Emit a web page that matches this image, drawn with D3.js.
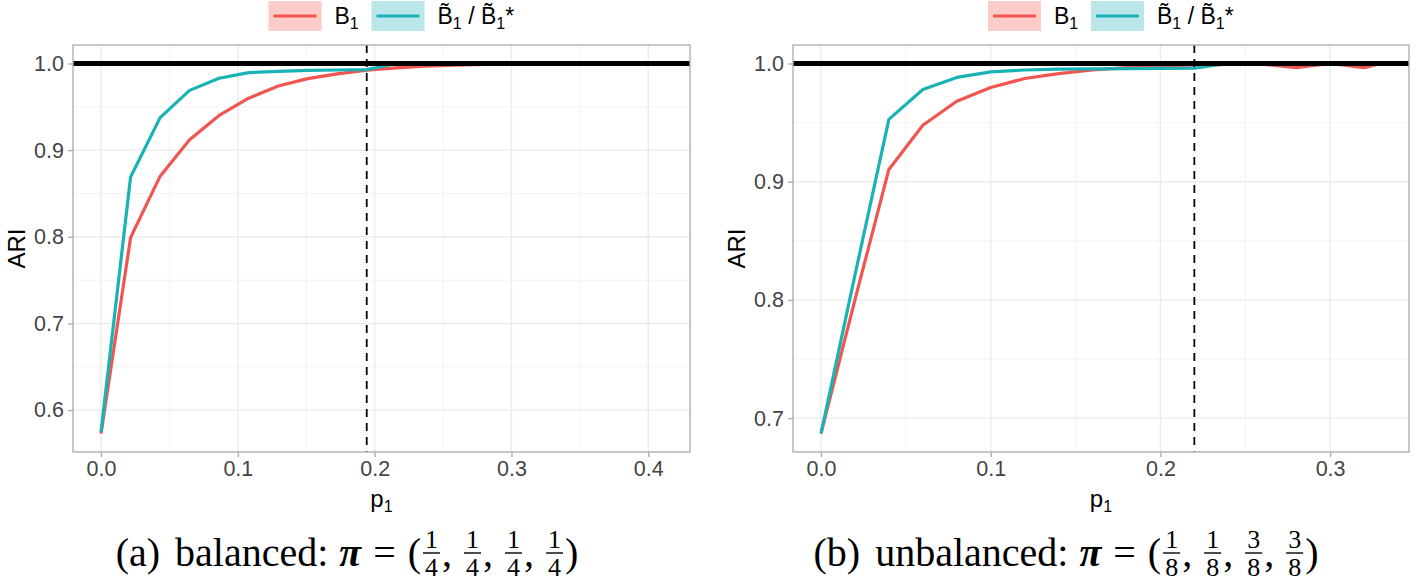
<!DOCTYPE html>
<html><head><meta charset="utf-8">
<script src="https://cdn.jsdelivr.net/npm/d3@7"></script>
<style>html,body{margin:0;padding:0;background:#fff;}svg{display:block;}</style>
</head><body>
<svg id="chart" width="1416" height="581"></svg>
<script>
// ---------- data ----------
const seriesNames = ["B1", "Bt"];
const leftX  = [0, 0.0216, 0.0432, 0.0647, 0.0863, 0.1079, 0.1295, 0.1511, 0.1726, 0.1942, 0.2158, 0.2374, 0.2589, 0.2805, 0.3021, 0.3237, 0.3453, 0.3668, 0.3884, 0.41];
const leftB1 = [0.573, 0.799, 0.870, 0.912, 0.940, 0.960, 0.974, 0.9825, 0.988, 0.9922, 0.995, 0.997, 0.998, 0.999, 0.9995, 1, 1, 1, 1, 1];
const leftBt = [0.575, 0.869, 0.9375, 0.969, 0.983, 0.9895, 0.991, 0.992, 0.9925, 0.993, 1, 1, 1, 1, 1, 1, 1, 1, 1, 1];
const rightX  = [0, 0.02, 0.04, 0.06, 0.08, 0.10, 0.12, 0.14, 0.16, 0.18, 0.20, 0.22, 0.24, 0.26, 0.28, 0.30, 0.32, 0.33];
const rightB1 = [0.687, 0.80, 0.9104, 0.9478, 0.9681, 0.9797, 0.9873, 0.9915, 0.9945, 0.9965, 0.998, 0.9988, 0.9993, 0.9995, 0.9965, 1, 0.9965, 1];
const rightBt = [0.687, 0.821, 0.9527, 0.978, 0.9882, 0.9929, 0.9945, 0.9952, 0.9955, 0.9957, 0.9958, 0.996, 1, 1, 1, 1, 1, 1];
const leftXTicks  = [0, 0.1, 0.2, 0.3, 0.4];
const leftYTicks  = [0.6, 0.7, 0.8, 0.9, 1.0];
const rightXTicks = [0, 0.1, 0.2, 0.3];
const rightYTicks = [0.7, 0.8, 0.9, 1.0];
const refLine = 1.0;
const leftVline = 0.1942;
const rightVline = 0.22;
const captionA = {label: "(a)", word: "balanced:", fracs: [["1","4"],["1","4"],["1","4"],["1","4"]]};
const captionB = {label: "(b)", word: "unbalanced:", fracs: [["1","8"],["1","8"],["3","8"],["3","8"]]};

// ---------- style ----------
const RED = "#F0564F", TEAL = "#19B3B6";
const RED_BG = "#FDCBC9", TEAL_BG = "#BAE8EA";
const svg = d3.select("#chart");
const SANS = "'Liberation Sans', Arial, sans-serif";
const SERIF = "'Liberation Serif', 'Times New Roman', serif";

function expand(lo, hi) { const r = hi - lo; return [lo - 0.05 * r, hi + 0.05 * r]; }

function drawPanel(o) {
  const g = svg.append("g");
  const xd = expand(d3.min(o.xs), d3.max(o.xs));
  const allY = o.b1.concat(o.bt).concat([refLine]);
  const yd = expand(d3.min(allY), d3.max(allY));
  const x = d3.scaleLinear().domain(xd).range([o.x0, o.x1]);
  const y = d3.scaleLinear().domain(yd).range([o.y1, o.y0]);

  g.append("rect").attr("x", o.x0).attr("y", o.y0).attr("width", o.x1 - o.x0).attr("height", o.y1 - o.y0).attr("fill", "#fff");
  const xMinor = o.xTicks.slice(0, -1).map((t, i) => (t + o.xTicks[i + 1]) / 2);
  xMinor.push(o.xTicks[o.xTicks.length - 1] + 0.05);
  const yMinor = o.yTicks.slice(0, -1).map((t, i) => (t + o.yTicks[i + 1]) / 2);
  yMinor.unshift(o.yTicks[0] - 0.05);
  g.selectAll(".vminor").data(xMinor.filter(v => v > xd[0] && v < xd[1])).enter().append("line")
    .attr("x1", d => x(d)).attr("x2", d => x(d)).attr("y1", o.y0).attr("y2", o.y1)
    .attr("stroke", "#F3F3F3").attr("stroke-width", 1);
  g.selectAll(".hminor").data(yMinor.filter(v => v > yd[0] && v < yd[1])).enter().append("line")
    .attr("y1", d => y(d)).attr("y2", d => y(d)).attr("x1", o.x0).attr("x2", o.x1)
    .attr("stroke", "#F3F3F3").attr("stroke-width", 1);
  g.selectAll(".vmajor").data(o.xTicks).enter().append("line")
    .attr("x1", d => x(d)).attr("x2", d => x(d)).attr("y1", o.y0).attr("y2", o.y1)
    .attr("stroke", "#EBEBEB").attr("stroke-width", 1.4);
  g.selectAll(".hmajor").data(o.yTicks).enter().append("line")
    .attr("y1", d => y(d)).attr("y2", d => y(d)).attr("x1", o.x0).attr("x2", o.x1)
    .attr("stroke", "#EBEBEB").attr("stroke-width", 1.4);

  const line = ys => d3.line().x((d, i) => x(o.xs[i])).y(d => y(d))(ys);
  g.append("path").attr("d", line(o.b1)).attr("fill", "none").attr("stroke", RED).attr("stroke-width", 3.2).attr("stroke-linejoin", "round");
  g.append("path").attr("d", line(o.bt)).attr("fill", "none").attr("stroke", TEAL).attr("stroke-width", 3.2).attr("stroke-linejoin", "round");
  g.append("line").attr("x1", o.x0).attr("x2", o.x1).attr("y1", y(refLine)).attr("y2", y(refLine))
    .attr("stroke", "#000").attr("stroke-width", 5);
  g.append("line").attr("x1", x(o.vline)).attr("x2", x(o.vline)).attr("y1", o.y0).attr("y2", o.y1)
    .attr("stroke", "#000").attr("stroke-width", 1.8).attr("stroke-dasharray", "8,6");
  g.append("rect").attr("x", o.x0).attr("y", o.y0).attr("width", o.x1 - o.x0).attr("height", o.y1 - o.y0)
    .attr("fill", "none").attr("stroke", "#B0B0B0").attr("stroke-width", 1.4);

  const ax = d3.axisBottom(x).tickValues(o.xTicks).tickFormat(d3.format(".1f")).tickSize(5).tickPadding(4);
  const gx = g.append("g").attr("transform", `translate(0,${o.y1})`).call(ax);
  const ay = d3.axisLeft(y).tickValues(o.yTicks).tickFormat(d3.format(".1f")).tickSize(5).tickPadding(4);
  const gy = g.append("g").attr("transform", `translate(${o.x0},0)`).call(ay);
  [gx, gy].forEach(a => {
    a.select(".domain").remove();
    a.selectAll(".tick line").attr("stroke", "#B0B0B0").attr("stroke-width", 1.4);
    a.selectAll(".tick text").attr("fill", "#444").style("font-family", SANS).style("font-size", "21.5px");
  });
  gx.selectAll(".tick text").attr("dy", "0.71em");

  g.append("text").attr("transform", `translate(${o.x0 - 57},${(o.y0 + o.y1) / 2}) rotate(-90)`)
    .attr("text-anchor", "middle").attr("dy", "0.36em").style("font-family", SANS).style("font-size", "24px").attr("fill", "#000").text("ARI");
  const pt = g.append("text").attr("x", (o.x0 + o.x1) / 2).attr("y", 507).attr("text-anchor", "middle")
    .style("font-family", SANS).style("font-size", "24px").attr("fill", "#000");
  pt.append("tspan").text("p");
  pt.append("tspan").attr("dy", 5).style("font-size", "16px").text("1");

  const lg = g.append("g").attr("transform", `translate(${(o.x0 + o.x1) / 2 - 113},0)`);
  lg.append("rect").attr("x", 0).attr("y", 1).attr("width", 53).attr("height", 30).attr("fill", RED_BG);
  lg.append("line").attr("x1", 5).attr("x2", 48).attr("y1", 16).attr("y2", 16).attr("stroke", RED).attr("stroke-width", 3);
  const t1 = lg.append("text").attr("x", 66).attr("y", 24).style("font-family", SANS).style("font-size", "23px").attr("fill", "#000");
  t1.append("tspan").text("B");
  t1.append("tspan").attr("dy", 5).style("font-size", "16px").text("1");
  lg.append("rect").attr("x", 103).attr("y", 1).attr("width", 53).attr("height", 30).attr("fill", TEAL_BG);
  lg.append("line").attr("x1", 108).attr("x2", 151).attr("y1", 16).attr("y2", 16).attr("stroke", TEAL).attr("stroke-width", 3);
  const t2 = lg.append("text").attr("x", 169).attr("y", 24).style("font-family", SANS).style("font-size", "23px").attr("fill", "#000");
  t2.append("tspan").text("B\u0303");
  t2.append("tspan").attr("dy", 5).style("font-size", "16px").text("1");
  t2.append("tspan").attr("dy", -5).text(" / B\u0303");
  t2.append("tspan").attr("dy", 5).style("font-size", "16px").text("1");
  t2.append("tspan").attr("dy", -5).text("*");
}

function drawCaption(cx, base, c) {
  const g = svg.append("g");
  const FS = 40, FF = 26;
  let xpos = 0;
  const add = (txt, opts = {}) => {
    const t = g.append("text").attr("x", xpos).attr("y", base).style("font-family", SERIF)
      .style("font-size", (opts.fs || FS) + "px").attr("fill", "#000").text(txt);
    if (opts.bold) t.style("font-weight", "bold");
    if (opts.italic) t.style("font-style", "italic");
    const w = t.node().getComputedTextLength();
    xpos += w + (opts.after || 0);
    return t;
  };
  add(c.label, {after: 15});
  add(c.word, {after: 11});
  add("\u03C0", {bold: true, italic: true, after: 12});
  add("=", {after: 12});
  add("(", {after: 2});
  c.fracs.forEach((f, i) => {
    const bw = 17;
    const axis = base - 13;
    g.append("line").attr("x1", xpos).attr("x2", xpos + bw).attr("y1", axis).attr("y2", axis).attr("stroke", "#000").attr("stroke-width", 1.4);
    g.append("text").attr("x", xpos + bw / 2).attr("y", axis - 5).attr("text-anchor", "middle").style("font-family", SERIF).style("font-size", FF + "px").text(f[0]);
    g.append("text").attr("x", xpos + bw / 2).attr("y", axis + 23).attr("text-anchor", "middle").style("font-family", SERIF).style("font-size", FF + "px").text(f[1]);
    xpos += bw + 2;
    if (i < c.fracs.length - 1) add(",", {after: 12});
  });
  add(")");
  g.attr("transform", `translate(${cx - xpos / 2},0)`);
}

drawPanel({x0: 73, x1: 690, y0: 45, y1: 452, xs: leftX, b1: leftB1, bt: leftBt, xTicks: leftXTicks, yTicks: leftYTicks, vline: leftVline});
drawPanel({x0: 793, x1: 1409, y0: 45, y1: 452, xs: rightX, b1: rightB1, bt: rightBt, xTicks: rightXTicks, yTicks: rightYTicks, vline: rightVline});
drawCaption(347, 566, captionA);
drawCaption(1066, 566, captionB);
</script>
</body></html>
